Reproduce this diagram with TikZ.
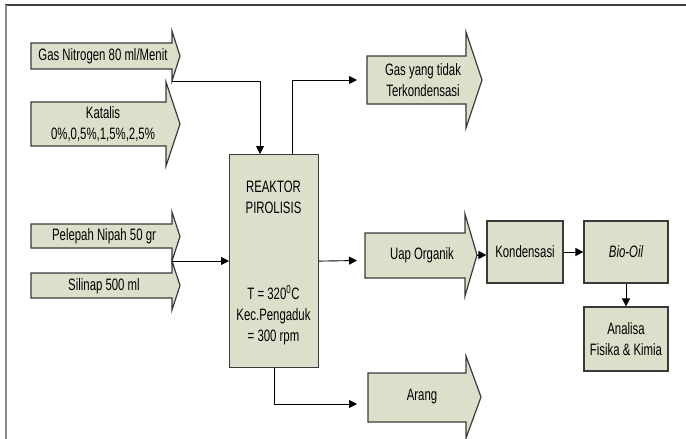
\documentclass[tikz,border=0pt]{standalone}
\usepackage{fontspec}
\newfontfamily\cf[FakeStretch=0.69]{Liberation Sans}
\usetikzlibrary{arrows.meta}
\definecolor{boxfill}{HTML}{DCE0CA}
\definecolor{boxline}{HTML}{3A3A3A}
\newcommand\fatarrow[8]{%
  \draw[shapebox] (#2,#4) -- (#3,#4) -- (#3,#6) -- (#8,{(#6+#7)/2}) -- (#3,#7) -- (#3,#5) -- (#2,#5) -- cycle;
  \coordinate (#1-tip) at (#8,{(#6+#7)/2});
  \coordinate (#1-hb) at (#3,#7);
}
\begin{document}
\begin{tikzpicture}[x=1pt,y=-1pt,
  shapebox/.style={draw=boxline,fill=boxfill,line width=1.2pt},
  lbl/.style={font=\cf\fontsize{16.5}{21}\selectfont,align=center,inner sep=0pt},
  boxnode/.style={shapebox,lbl,minimum height=62pt},
  conn/.style={line width=0.9pt,-{Triangle[length=8pt,width=8pt]}}]
\useasboundingbox (0,0) rectangle (686,439);
\draw[line width=1.8pt,draw=black!75] (5,5) -- (686,5);
\draw[line width=1.8pt,draw=black!45] (6,5) -- (6,439);

% input arrows
\fatarrow{n2}{31}{172}{43}{69}{31}{81}{180}
\node[lbl] (n2t) at (103,56) {Gas Nitrogen 80 ml/Menit};
\fatarrow{kat}{31}{166}{102}{146}{82}{166}{180}
\node[lbl] (katt) at (103,124) {Katalis\\0\%,0,5\%,1,5\%,2,5\%};
\fatarrow{pel}{31}{172}{224}{248}{212}{261}{180}
\node[lbl] (pelt) at (104,236) {Pelepah Nipah 50 gr};
\fatarrow{sil}{31}{172}{273}{298}{261}{310}{180}
\node[lbl] (silt) at (104,286) {Silinap 500 ml};

% output arrows
\fatarrow{gas}{367}{466}{56}{104}{32}{128}{482}
\node[lbl] (gast) at (423,80) {Gas yang tidak\\Terkondensasi};
\fatarrow{uap}{365}{465}{233}{278}{214}{296}{477}
\node[lbl] (uapt) at (422,255) {Uap Organik};
\fatarrow{ara}{368}{466}{373}{422}{356}{438}{481}
\node[lbl] (arat) at (422,397) {Arang};

% reactor
\node[shapebox,minimum width=89pt,minimum height=213pt,anchor=north west,inner sep=0pt] (reaktor) at (229,154) {};
\node[lbl] (rt1) at (273.5,197) {REAKTOR\\PIROLISIS};
\node[lbl] (rt2) at (273.5,315) {T = 320\textsuperscript{0}C\\Kec.Pengaduk\\= 300 rpm};

% boxes
\node[boxnode,minimum width=76pt] (kond) at (525,252) {Kondensasi};
\node[boxnode,minimum width=84pt] (bio) at (626,252) {\itshape Bio-Oil};
\node[boxnode,minimum width=84pt,minimum height=64pt] (ana) at (626,339) {Analisa\\Fisika \& Kimia};

% free ends
\coordinate (gasin) at (357,80);
\coordinate (uapin) at (357,260.5);
\coordinate (arain) at (357,404);

% connectors
\draw[conn] (n2-hb) -| ([xshift=31pt]reaktor.north west);
\draw[conn] ([xshift=63pt]reaktor.north west) |- (gasin);
\draw[conn] (pel-hb) -- (pel-hb -| reaktor.west);
\draw[conn] (reaktor.east) -- (uapin);
\draw[conn] ([xshift=45pt]reaktor.south west) |- (arain);
\draw[conn] (uap-tip) -- (uap-tip -| kond.west);
\draw[conn] (kond.east) -- (bio.west);
\draw[conn] (bio.south) -- (ana.north);
\end{tikzpicture}
\end{document}
